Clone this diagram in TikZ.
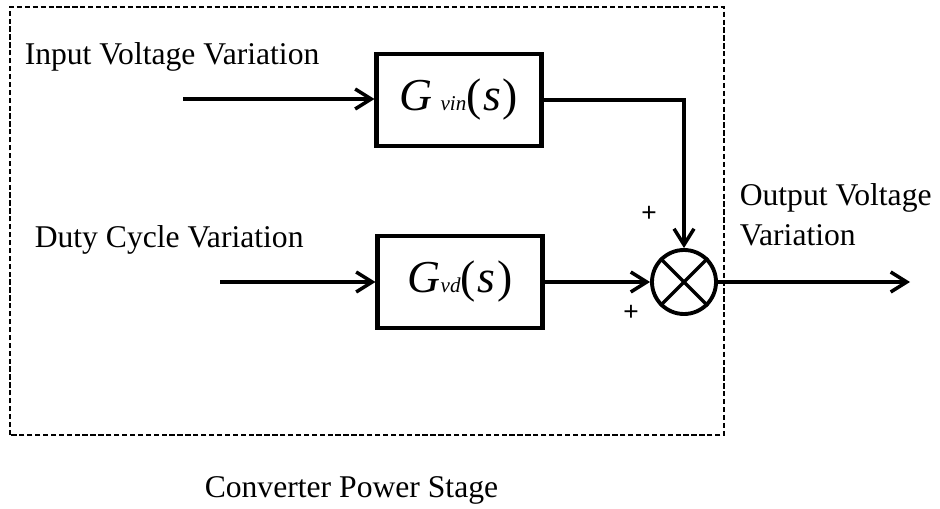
\documentclass[tikz,border=0pt]{standalone}
\usepackage{fontspec}
\setmainfont{Liberation Serif}
\newfontfamily\plusfont{Liberation Sans}
\usetikzlibrary{arrows.meta,positioning}

\begin{document}
\begin{tikzpicture}[
    >={Straight Barb[length=3.2mm,width=4mm]},
    line width=2pt,
    block/.style={rectangle, draw=black, line width=2.3pt, minimum width=3.3cm, minimum height=1.85cm, inner sep=0pt},
    sum/.style={circle, draw=black, line width=2.2pt, minimum size=1.28cm, inner sep=0pt},
    label/.style={font=\fontsize{18}{22.7}\selectfont, inner sep=0pt},
    sign/.style={font=\plusfont\fontsize{15}{15}\selectfont, inner sep=0pt}
]
    \useasboundingbox (0,0) rectangle (18.8,10.16);
    \draw[line width=0.7pt, dash pattern=on 3pt off 1.5pt] (0.2,1.46) rectangle (14.48,10.02);

    \node[block] (gvin) at (9.18,8.16) {\fontsize{26}{26}\selectfont\itshape G\,{\fontsize{12}{12}\selectfont vin}\upshape(\kern1pt\itshape s\upshape\kern1pt)};
    \node[block] (gvd) at (9.2,4.52) {\fontsize{26}{26}\selectfont\itshape G{\fontsize{12}{12}\selectfont vd}\upshape(\kern1pt\itshape s\upshape\kern1pt)};
    \node[sum] (sum) at (13.68,4.52) {};
    \draw (sum.north east) -- (sum.south west);
    \draw (sum.north west) -- (sum.south east);

    \coordinate (in1) at (3.66,8.18);
    \coordinate (in2) at (4.4,4.52);
    \coordinate (out) at (18.2,4.52);

    \node[label, anchor=base west] (lin1) at (0.46,8.86) {Input Voltage Variation};
    \node[label, anchor=base west] (lin2) at (0.66,5.2) {Duty Cycle Variation};
    \node[label, anchor=north west, align=left] (lout) at (14.76,6.53) {Output Voltage\\Variation};
    \node[label, anchor=base west] (lstage) at (4.06,0.22) {Converter Power Stage};

    \node[sign] (p1) at (12.98,5.88) {+};
    \node[sign] (p2) at (12.62,3.9) {+};

    \draw[->] (in1) -- (gvin.west |- in1);
    \draw[->] (in2) -- (gvd.west |- in2);
    \draw[->] (gvin.east) -| (sum.north);
    \draw[->] (gvd.east) -- (sum.west);
    \draw[->] (sum.east) -- (out);
\end{tikzpicture}
\end{document}
